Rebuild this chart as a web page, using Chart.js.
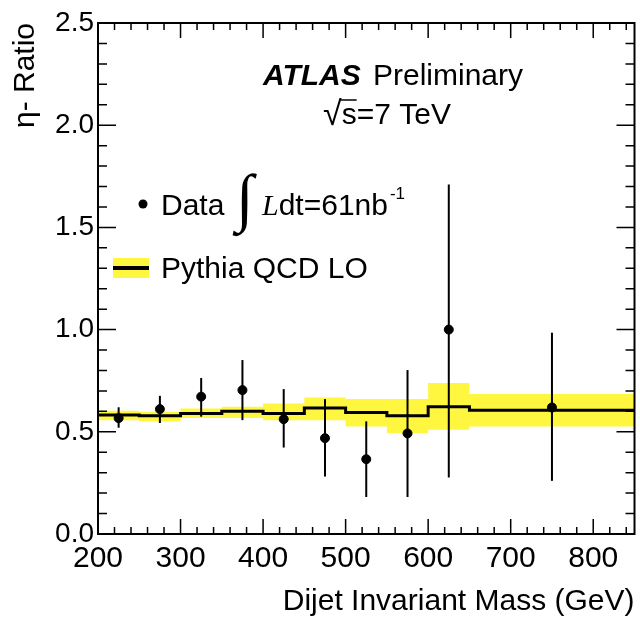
<!DOCTYPE html>
<html>
<head>
<meta charset="utf-8">
<script src="https://cdn.jsdelivr.net/npm/chart.js@4/dist/chart.umd.min.js"></script>
<style>
  html, body { margin: 0; padding: 0; background: #fff; }
  #wrap { width: 640px; height: 620px; }
</style>
</head>
<body>
<div id="wrap"><canvas id="chart" width="640" height="620"></canvas></div>
<script>
// data points (bin centres, GeV)
const massCenters = [225, 275, 325, 375, 425, 475, 525, 575, 625, 750];
const dataRatio = [0.567, 0.611, 0.672, 0.704, 0.562, 0.469, 0.366, 0.492, 1.0, 0.619];
const dataErrHigh = [0.62, 0.676, 0.763, 0.851, 0.709, 0.66, 0.551, 0.802, 1.71, 0.985];
const dataErrLow = [0.52, 0.543, 0.574, 0.557, 0.423, 0.281, 0.181, 0.181, 0.276, 0.26];

// Pythia QCD LO histogram
const binEdges = [200, 250, 300, 350, 400, 450, 500, 550, 600, 650, 850];
const mcRatio = [0.582, 0.578, 0.59, 0.6, 0.59, 0.616, 0.595, 0.578, 0.623, 0.606];
const mcHigh = [0.603, 0.598, 0.614, 0.623, 0.639, 0.668, 0.66, 0.66, 0.739, 0.685];
const mcLow = [0.557, 0.551, 0.567, 0.567, 0.557, 0.557, 0.526, 0.494, 0.51, 0.526];

const FONT = '"Liberation Sans", Arial, Helvetica, sans-serif';
const YELLOW = "#fff640";

// stepped line needs one point per left edge plus the closing edge
const stepPoints = (vals) =>
  binEdges.map((x, i) => ({ x, y: vals[Math.min(i, vals.length - 1)] }));

const frameAndTicks = {
  id: "frameAndTicks",
  afterDatasetsDraw(chart) {
    const { ctx, scales } = chart;
    const xs = scales.x, ys = scales.y;
    ctx.save();
    // error bars
    ctx.strokeStyle = "#000";
    ctx.lineWidth = 2;
    massCenters.forEach((m, i) => {
      const px = xs.getPixelForValue(m);
      ctx.beginPath();
      ctx.moveTo(px, ys.getPixelForValue(dataErrHigh[i]));
      ctx.lineTo(px, ys.getPixelForValue(dataErrLow[i]));
      ctx.stroke();
    });
    ctx.restore();
  },
  afterDraw(chart) {
    const { ctx, chartArea: a, scales } = chart;
    const xs = scales.x, ys = scales.y;
    ctx.save();
    ctx.strokeStyle = "#000";
    ctx.lineWidth = 2;
    ctx.strokeRect(a.left, a.top, a.right - a.left, a.bottom - a.top);

    ctx.lineWidth = 1.5;
    ctx.beginPath();
    // x ticks (inward, top and bottom)
    for (let v = 200; v < 850; v += 20) {
      const px = xs.getPixelForValue(v);
      const len = v % 100 === 0 ? 15 : 7;
      ctx.moveTo(px, a.bottom); ctx.lineTo(px, a.bottom - len);
      ctx.moveTo(px, a.top); ctx.lineTo(px, a.top + len);
    }
    // y ticks (inward, left and right)
    for (let k = 0; k <= 25; k++) {
      const py = ys.getPixelForValue(k / 10);
      const len = k % 5 === 0 ? 18 : 9;
      ctx.moveTo(a.left, py); ctx.lineTo(a.left + len, py);
      ctx.moveTo(a.right, py); ctx.lineTo(a.right - len, py);
    }
    ctx.stroke();

    // labels inside the frame
    ctx.fillStyle = "#000";
    ctx.textBaseline = "alphabetic";
    ctx.textAlign = "left";
    ctx.font = "italic bold 30px " + FONT;
    ctx.fillText("ATLAS", 263, 85);
    ctx.font = "30px " + FONT;
    ctx.fillText("Preliminary", 373, 85);

    ctx.font = "34px " + FONT;
    ctx.fillText("\u221A", 323, 125);
    const sx = 323 + ctx.measureText("\u221A").width;
    ctx.font = "30px " + FONT;
    ctx.fillText("s=7 TeV", sx, 124);
    const sw = ctx.measureText("s").width;
    ctx.lineWidth = 1.5;
    ctx.beginPath();
    ctx.moveTo(sx - 1, 100);
    ctx.lineTo(sx + sw, 100);
    ctx.stroke();

    // legend: data
    ctx.beginPath();
    ctx.arc(143, 204, 4.5, 0, Math.PI * 2);
    ctx.fill();
    ctx.fillText("Data", 161, 215);
    ctx.font = '64px "Liberation Serif", "Times New Roman", serif';
    ctx.fillText("\u222B", 236, 219);
    ctx.font = 'italic 30px "Liberation Serif", "Times New Roman", serif';
    ctx.fillText("L", 262, 215);
    let lx = 262 + ctx.measureText("L").width;
    ctx.font = "30px " + FONT;
    ctx.fillText("dt=61nb", lx, 215);
    lx += ctx.measureText("dt=61nb").width + 2;
    ctx.font = "17px " + FONT;
    ctx.fillText("-1", lx, 199);

    // legend: Pythia
    ctx.fillStyle = YELLOW;
    ctx.fillRect(113, 258, 36, 20);
    ctx.strokeStyle = "#000";
    ctx.lineWidth = 4;
    ctx.beginPath();
    ctx.moveTo(113, 268); ctx.lineTo(149, 268);
    ctx.stroke();
    ctx.fillStyle = "#000";
    ctx.font = "30px " + FONT;
    ctx.fillText("Pythia QCD LO", 161, 278);
    ctx.restore();
  }
};

new Chart(document.getElementById("chart"), {
  type: "line",
  data: {
    datasets: [
      {
        label: "band high",
        data: stepPoints(mcHigh),
        stepped: true,
        borderWidth: 0,
        borderColor: "rgba(0,0,0,0)",
        pointRadius: 0,
        fill: false,
        order: 4
      },
      {
        label: "band low",
        data: stepPoints(mcLow),
        stepped: true,
        borderWidth: 0,
        borderColor: "rgba(0,0,0,0)",
        backgroundColor: YELLOW,
        pointRadius: 0,
        fill: "-1",
        order: 3
      },
      {
        label: "Pythia QCD LO",
        data: stepPoints(mcRatio),
        stepped: true,
        borderColor: "#000",
        borderWidth: 3,
        pointRadius: 0,
        fill: false,
        order: 2
      },
      {
        label: "Data",
        type: "scatter",
        data: massCenters.map((m, i) => ({ x: m, y: dataRatio[i] })),
        backgroundColor: "#000",
        borderColor: "#000",
        pointRadius: 4.5,
        showLine: false,
        order: 1
      }
    ]
  },
  options: {
    responsive: false,
    animation: false,
    // chart.js keeps a few px on the right; negative padding pulls the frame to x=638
    layout: { padding: { top: 23, right: -5, left: 0, bottom: 0 } },
    plugins: {
      legend: { display: false },
      tooltip: { enabled: false }
    },
    scales: {
      x: {
        type: "linear",
        min: 200,
        max: 850,
        afterFit: (s) => { s.height = 86; s.paddingLeft = 0; s.paddingRight = 0; },
        border: { display: false },
        grid: { display: false, drawTicks: false },
        ticks: {
          stepSize: 100,
          includeBounds: false,
          padding: 7,
          color: "#000",
          maxRotation: 0,
          font: { family: FONT, size: 30 }
        },
        title: {
          display: true,
          text: "Dijet Invariant Mass (GeV)",
          align: "end",
          color: "#000",
          padding: { top: 0, bottom: 0 },
          font: { family: FONT, size: 30 }
        }
      },
      y: {
        min: 0,
        max: 2.5,
        afterFit: (s) => { s.width = 98; s.paddingTop = 0; s.paddingBottom = 0; },
        border: { display: false },
        grid: { display: false, drawTicks: false },
        ticks: {
          stepSize: 0.5,
          padding: 4,
          color: "#000",
          font: { family: FONT, size: 28 },
          callback: (v) => v.toFixed(1)
        },
        title: {
          display: true,
          text: "\u03B7- Ratio",
          align: "end",
          color: "#000",
          padding: { top: 8, bottom: 0 },
          font: { family: FONT, size: 30 }
        }
      }
    }
  },
  plugins: [frameAndTicks]
});
</script>
</body>
</html>
